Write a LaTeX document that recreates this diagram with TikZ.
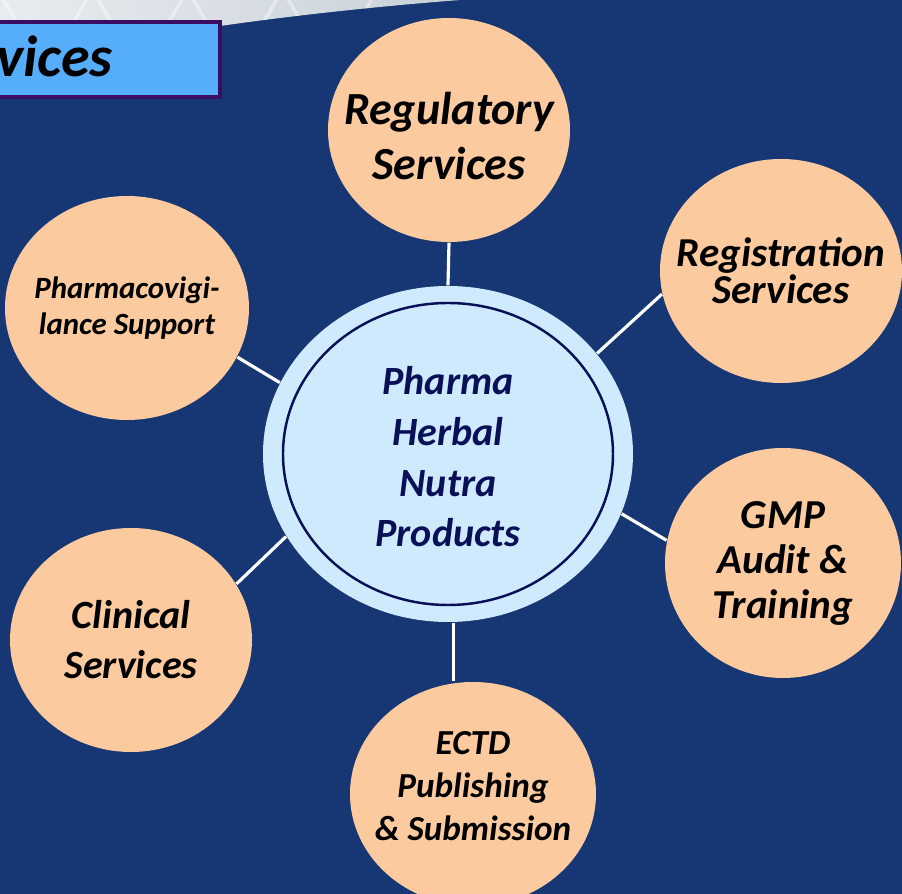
\documentclass[tikz,border=0pt]{standalone}
\usepackage{fontspec}
\setmainfont{Carlito}
\usetikzlibrary{shapes.geometric}
\definecolor{svnavy}{RGB}{23,54,116}
\definecolor{svpeach}{RGB}{251,202,158}
\definecolor{svhub}{RGB}{206,234,252}
\definecolor{svink}{RGB}{10,16,88}
\definecolor{svtab}{RGB}{86,174,250}
\definecolor{svtabedge}{RGB}{58,12,98}
\definecolor{svsky}{RGB}{232,236,240}
\definecolor{svskydark}{RGB}{200,208,216}
\tikzset{
  sat/.style={ellipse, fill=svpeach, inner sep=0pt,
    minimum width=2.42cm, minimum height=2.24cm},
  sattxt/.style={align=center, text=black, inner sep=0pt,
    font=\bfseries\itshape\fontsize{#1}{1.2*#1}\selectfont},
  link/.style={draw=white, line width=0.9pt},
  hex/.style={draw=white, line width=1pt, opacity=0.4}
}

\begin{document}
\begin{tikzpicture}
  \useasboundingbox (0,0) rectangle (9.02,8.94);
  \fill[svnavy] (0,0) rectangle (9.02,8.94);

  % pale banner in the top corner
  \path[left color=svsky, right color=svskydark]
    (0,8.94) -- (4.6,8.94) .. controls (3.7,8.87) and (2.9,8.78) .. (2.2,8.68)
    -- (0,8.68) -- cycle;
  \begin{scope}
    \clip (0,8.94) -- (4.6,8.94) .. controls (3.7,8.87) and (2.9,8.78) .. (2.2,8.68)
      -- (0,8.68) -- cycle;
    \foreach \cx in {0.45,1.4,2.35,3.3}
      \draw[hex] (\cx,8.95) ++(0:0.42) -- ++(120:0.42) -- ++(180:0.42)
        -- ++(240:0.42) -- ++(300:0.42) -- ++(0:0.42) -- cycle;
  \end{scope}

  % heading tab
  \node[draw=svtabedge, line width=1pt, fill=svtab, anchor=east,
        text width=2.08cm, inner xsep=0.16cm, minimum height=0.75cm,
        align=left, font=\bfseries\itshape\fontsize{16.5}{18}\selectfont]
    (tab) at (2.22,8.345) {\raisebox{0.06cm}{vices}};

  % hub
  \node[ellipse, fill=svhub, minimum width=3.70cm, minimum height=3.36cm,
        inner sep=0pt] (hub) at (4.48,4.40) {};
  \node[ellipse, draw=svink, line width=0.7pt, minimum width=3.30cm,
        minimum height=3.02cm, inner sep=0pt,
        label={[sattxt=11.4, text=svink, yshift=-0.03cm,
                font=\bfseries\itshape\fontsize{11.4}{14.4}\selectfont]center:
               Pharma\\Herbal\\Nutra\\Products}]
    (core) at (hub) {};

  % services around the hub
  \node[sat, label={[sattxt=13.1, font=\bfseries\itshape\fontsize{13.1}{15.6}\selectfont,
        yshift=-0.06cm]center:Regulatory\\Services}]
    (reg) at (4.49,7.64) {};
  \node[sat, label={[sattxt=11.7, font=\bfseries\itshape\fontsize{11.7}{10.6}\selectfont]center:
        Registration\\Services}]
    (regis) at (7.81,6.23) {};
  \node[sat, minimum width=2.36cm, minimum height=2.30cm,
        label={[sattxt=11.7, font=\bfseries\itshape\fontsize{11.7}{12.8}\selectfont]center:
        GMP\\Audit \&\\Training}]
    (gmp) at (7.83,3.31) {};
  \node[sat, minimum width=2.46cm,
        label={[sattxt=10, font=\bfseries\itshape\fontsize{10}{12.2}\selectfont,
        yshift=0.08cm]center:ECTD\\Publishing\\\& Submission}]
    (ectd) at (4.73,1.00) {};
  \node[sat, label={[sattxt=11.4, font=\bfseries\itshape\fontsize{11.4}{14.2}\selectfont]center:
        Clinical\\Services}]
    (clin) at (1.31,2.54) {};
  \node[sat, minimum width=2.44cm,
        label={[sattxt=8.8, font=\bfseries\itshape\fontsize{8.8}{10.2}\selectfont]center:
        Pharmacovigi-\\lance Support}]
    (pv) at (1.27,5.86) {};

  % spokes
  \draw[link] (hub.north) -- (reg.south);
  \foreach \p/\q in {34/regis.191, -19/gmp.169, 207/clin.28, 157/pv.-24}
    \draw[link] (hub.\p) -- (\q);
  \draw[link] (hub.-88) -- (hub.-88 |- ectd.north);
\end{tikzpicture}
\end{document}
